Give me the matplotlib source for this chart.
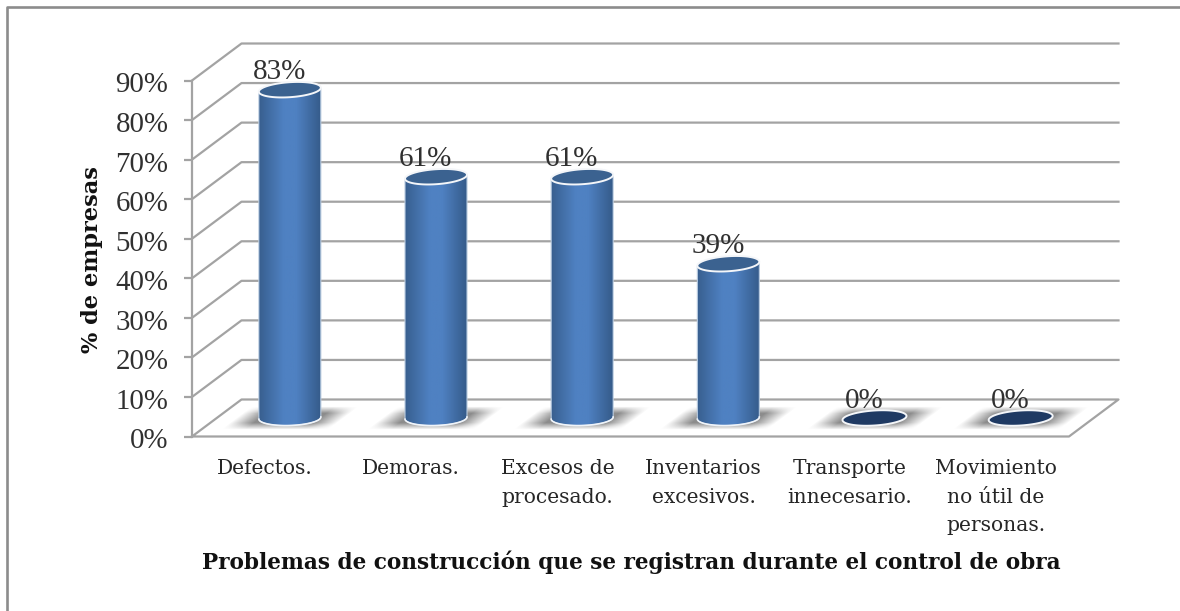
import numpy as np
import matplotlib
matplotlib.use("Agg")
import matplotlib.pyplot as plt
from matplotlib.transforms import ScaledTranslation

categorias = ["Defectos.", "Demoras.", "Excesos de\nprocesado.", "Inventarios\nexcesivos.",
              "Transporte\ninnecesario.", "Movimiento\nno útil de\npersonas."]
valores = [83, 61, 61, 39, 0, 0]
etiquetas = ["83%", "61%", "61%", "39%", "0%", "0%"]
marcas_y = [0, 10, 20, 30, 40, 50, 60, 70, 80, 90]

W, H = 1180, 611
GRIS = "#a3a3a3"
px_x = 877 / 6      # pixels per category
px_y = 356 / 90     # pixels per percent
dx = 49.5 / px_x    # 3d depth offset
dy = 37 / px_y

fig = plt.figure(figsize=(W / 100, H / 100), dpi=100, facecolor="white")
# only the top and left edges of the chart frame are inside the picture
fig.add_artist(plt.Line2D([7.3 / W, 7.3 / W, 1], [0, 1 - 7.3 / H, 1 - 7.3 / H], transform=fig.transFigure,
                          color="#8c8c8c", lw=1.9))
ax = fig.add_axes([192 / W, (H - 436.5) / H, 877 / W, 356 / H])
ax.patch.set_visible(False)


def elipse(xc, yc, a=30.5, b=7.5, tilt=2.0):
    t = np.linspace(0, 2 * np.pi, 120)
    x = xc + a * np.cos(t) / px_x
    y = yc + (b * np.sin(t) + tilt * np.cos(t)) / px_y
    return x, y


def sombra(xc, yc):
    # blurred floor shadow, skewed with the depth of the floor
    xs = np.linspace(xc - 70 / px_x, xc + 70 / px_x, 140)
    ys = np.linspace(yc - 14 / px_y, yc + 14 / px_y, 28)
    xx, yy = np.meshgrid(xs, ys)
    u = (xx - xc) * px_x - 1.3 * (yy - yc) * px_y
    v = (yy - yc) * px_y
    al = np.clip((54 - np.abs(u)) / 24, 0, 1) * np.clip((12 - np.abs(v)) / 7, 0, 1)
    rgba = np.ones((28, 140, 4)) * 0.55
    rgba[..., 3] = al
    ax.imshow(rgba, extent=(xs[0], xs[-1], ys[0], ys[-1]), origin="lower", aspect="auto",
              zorder=3, interpolation="nearest", clip_on=False)


# walls and floor
ax.plot([0, 6, 6 + dx, dx, 0], [0, 0, dy, dy, 0], color=GRIS, lw=1.6, zorder=1, clip_on=False)
for m in marcas_y[1:]:
    ax.plot([0, dx, 6 + dx], [m, m + dy, m + dy], color=GRIS, lw=1.6, zorder=1, clip_on=False)

# cylinders
azul = np.array([[0x38, 0x5f, 0x8f], [0x4f, 0x81, 0xc2], [0x4f, 0x81, 0xc2], [0x35, 0x5b, 0x8a]]) / 255
pos = np.linspace(0, 1, 200)
grad = np.stack([np.interp(pos, [0, 0.4, 0.6, 1], azul[:, c]) for c in range(3)], axis=1)[None, :, :]

for i, v in enumerate(valores):
    xc = i + 0.5 + dx / 2
    y0 = dy / 2
    sombra(xc, y0)
    a0 = 31 if v > 0 else 32
    xt, yt = elipse(xc, y0 + v, a=a0)
    if v > 0:
        xb, yb = elipse(xc, y0, a=a0, tilt=1.0)
        mask = np.sin(np.linspace(0, 2 * np.pi, 120)) < 0
        orden = np.argsort(xb[mask])
        arco_x, arco_y = xb[mask][orden], yb[mask][orden]
        cx = np.concatenate([arco_x, [xb.max(), xb.min()]])
        cy = np.concatenate([arco_y, [y0 + v + 2 / px_y, y0 + v - 2 / px_y]])
        body = ax.fill(cx, cy, facecolor="none", edgecolor="#b8cbe0", lw=0.8, zorder=5, clip_on=False)[0]
        im = ax.imshow(grad, extent=(xc - a0 / px_x, xc + a0 / px_x, y0 - 10 / px_y, y0 + v + 3 / px_y),
                       aspect="auto", zorder=4, clip_on=True)
        im.set_clip_path(body)
        ax.plot(arco_x, arco_y, color="#f0f4f9", lw=1.2, zorder=5, clip_on=False)
    ax.fill(xt, yt, facecolor="#3b6290" if v > 0 else "#1f3a63", edgecolor="#f4f6f9", lw=1.4,
            zorder=6, clip_on=False)
    ax.annotate(etiquetas[i], xy=(xc, y0 + v), xytext=(-7.5, 12.5), textcoords="offset points",
                ha="center", va="center", fontsize=21, family="Liberation Serif", color="#303030", zorder=7,
                annotation_clip=False)

ax.set_xlim(0, 6)
ax.set_ylim(0, 90)
ax.set_yticks(marcas_y)
ax.set_yticklabels([f"{m}%" for m in marcas_y], fontsize=20.8, family="Liberation Serif", color="#303030")
ax.set_xticks(np.arange(6) + 0.5)
ax.set_xticklabels(categorias, fontsize=14.6, family="DejaVu Serif", color="#262626", linespacing=1.62,
                   va="top", fontweight="light")
ax.tick_params(axis="y", length=6, width=1.6, color=GRIS, pad=11)
ax.tick_params(axis="x", length=0, pad=16.5)
# tick_params resets the label transforms, so the shift goes after it
bajar = ScaledTranslation(0, -2 / 100, fig.dpi_scale_trans)
for lab in ax.get_yticklabels():
    lab.set_transform(lab.get_transform() + bajar)
for lado in ["top", "right", "bottom"]:
    ax.spines[lado].set_visible(False)
ax.spines["left"].set_color(GRIS)
ax.spines["left"].set_linewidth(1.6)

fig.text(92 / W, 1 - 260 / H, "% de empresas", rotation=90, ha="center", va="center",
         fontsize=16.2, fontweight="bold", family="DejaVu Serif", color="#111111")
fig.text(631 / W, 1 - 562 / H, "Problemas de construcción que se registran durante el control de obra",
         ha="center", va="center", fontsize=15.6, fontweight="bold", family="DejaVu Serif", color="#111111")

fig.savefig("out.png", dpi=100)
